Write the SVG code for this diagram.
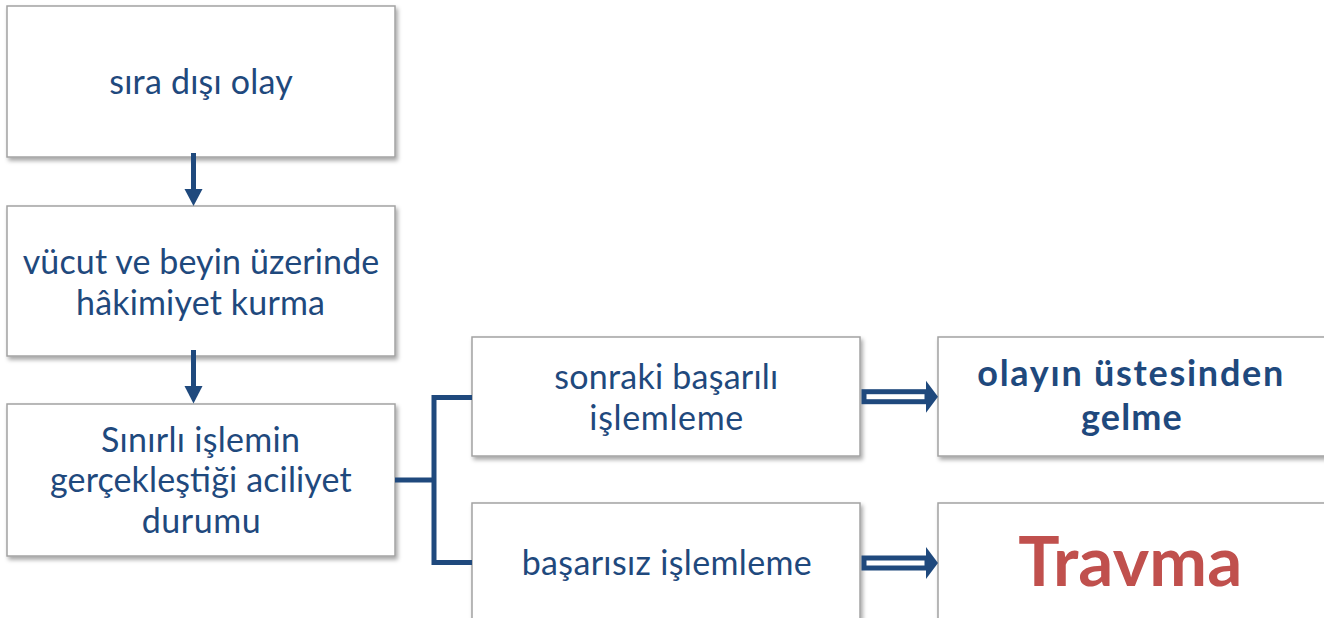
<svg xmlns="http://www.w3.org/2000/svg" width="1324" height="618" viewBox="0 0 1324 618">
<defs>
<filter id="sh" x="-5%" y="-5%" width="115%" height="120%">
<feDropShadow dx="2" dy="3" stdDeviation="2" flood-color="#000" flood-opacity="0.35"/>
</filter>
<style>
.box{fill:#ffffff;stroke:#a3a3a3;stroke-width:1.5;filter:url(#sh)}
.t{font-family:Lato,"Open Sans",sans-serif;font-size:34px;fill:#1f497d}
.tb{font-family:Lato,"Open Sans",sans-serif;font-size:36px;font-weight:bold;fill:#1f497d}
.tr{font-family:Lato,"Open Sans",sans-serif;font-size:69px;font-weight:bold;fill:#c0504d}
.ln{fill:none;stroke:#1f497d;stroke-width:5}
.hd{fill:#1f497d}
.dsh{fill:#ffffff;stroke:#1f497d;stroke-width:5}
</style>
</defs>
<g id="n1"><rect class="box" x="7" y="6" width="388" height="151"/>
<text class="t" x="109.3" y="94" textLength="183.4">sıra dışı olay</text></g>
<g id="n2"><rect class="box" x="7" y="206" width="388" height="150"/>
<text class="t" x="22.7" y="274" textLength="356.6">vücut ve beyin üzerinde</text>
<text class="t" x="76" y="314.5" textLength="249">hâkimiyet kurma</text></g>
<g id="n3"><rect class="box" x="7" y="404" width="388" height="152"/>
<text class="t" x="101" y="451.5" textLength="199">Sınırlı işlemin</text>
<text class="t" x="50" y="492" textLength="301.7">gerçekleştiği aciliyet</text>
<text class="t" x="141.7" y="533" textLength="119">durumu</text></g>
<g id="n4"><rect class="box" x="472" y="337" width="388" height="119"/>
<text class="t" x="554.3" y="389" textLength="224">sonraki başarılı</text>
<text class="t" x="589.3" y="429.5" textLength="154">işlemleme</text></g>
<g id="n5"><rect class="box" x="472" y="503" width="388" height="125"/>
<text class="t" x="521.7" y="574.5" textLength="290">başarısız işlemleme</text></g>
<g id="n6"><rect class="box" x="938" y="337" width="390" height="119"/>
<text class="tb" x="977.3" y="386" textLength="306">olayın üstesinden</text>
<text class="tb" x="1081" y="430" textLength="100.7">gelme</text></g>
<g id="n7"><rect class="box" x="938" y="503" width="390" height="125"/>
<text class="tr" x="1018.3" y="586" textLength="224">Travma</text></g>
<g id="connectors">
<line class="ln" x1="193.5" y1="153" x2="193.5" y2="191"/>
<polygon class="hd" points="184.5,189 202.5,189 193.5,206"/>
<line class="ln" x1="193.5" y1="350" x2="193.5" y2="388"/>
<polygon class="hd" points="184.5,386 202.5,386 193.5,403.5"/>
<path class="ln" d="M395,480 H434"/>
<path class="ln" d="M472,397.5 H434 V562.5 H472"/>
<rect class="dsh" x="864" y="391.7" width="63" height="10"/>
<polygon class="hd" points="926,380.7 938,396.7 926,412.7"/>
<rect class="dsh" x="864" y="558" width="63" height="10"/>
<polygon class="hd" points="926,547 938,563 926,579"/>
</g>
</svg>
